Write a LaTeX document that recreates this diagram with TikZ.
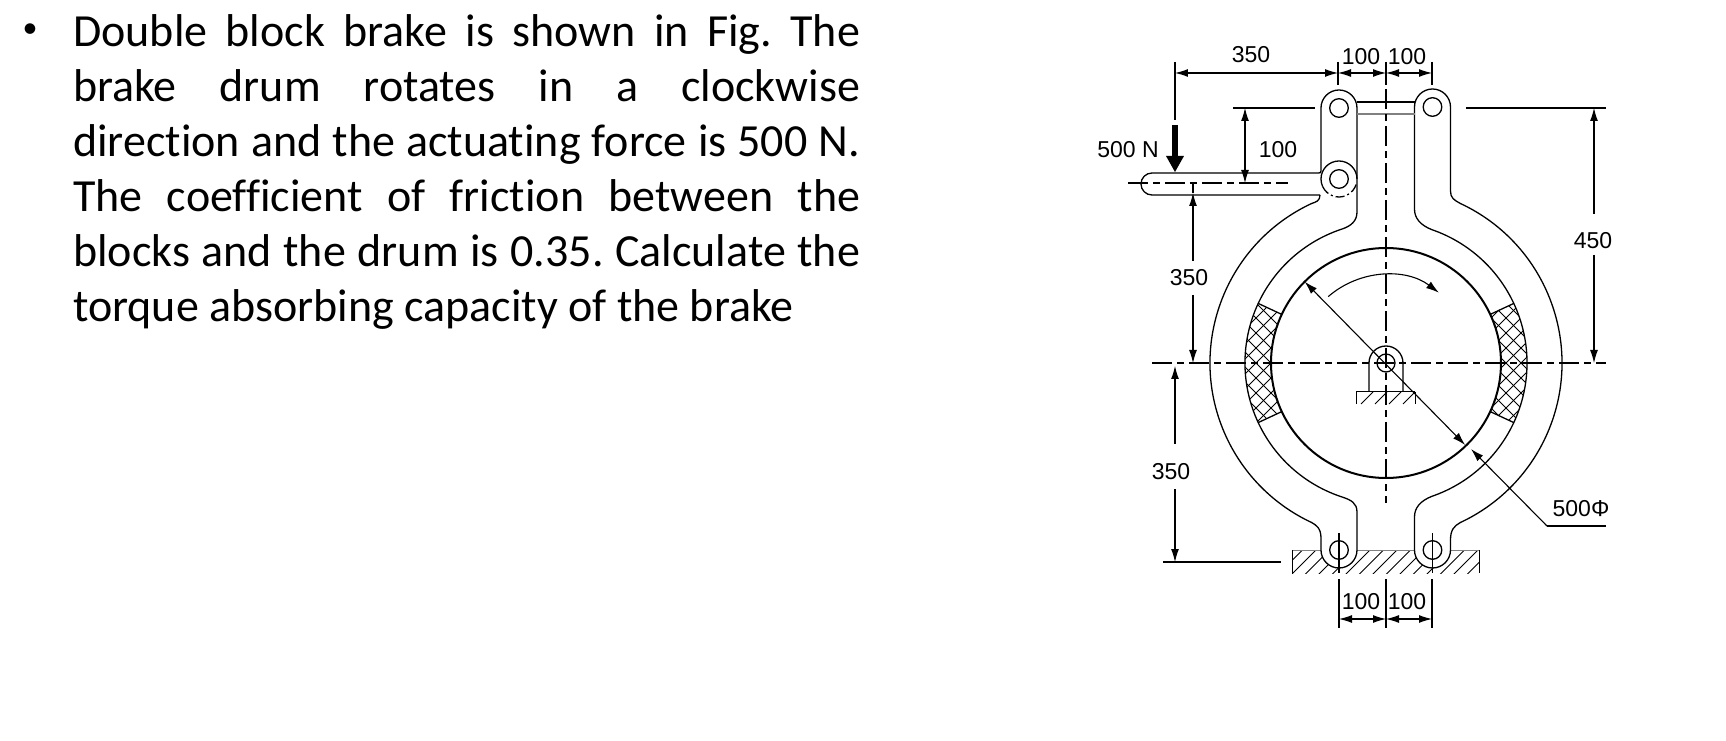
\documentclass[tikz,border=0pt]{standalone}
\usepackage{fontspec}
\setmainfont[Ligatures=NoCommon]{Carlito}
\newfontfamily\dimfont{Liberation Sans}
\usetikzlibrary{arrows.meta}
\frenchspacing
\tikzset{
part/.style={line width=1.3pt},
dimline/.style={line width=1.1pt,{Latex[length=13pt,width=8pt]}-{Latex[length=13pt,width=8pt]}},
dimhead/.style={line width=1.1pt,-{Latex[length=13pt,width=8pt]}},
extline/.style={line width=1.1pt},
axisline/.style={line width=1.2pt,dash pattern=on 20pt off 5pt on 7pt off 5pt},
hatchline/.style={line width=1pt},
dimtext/.style={inner sep=0pt,yshift=-1.5pt,font=\dimfont\fontsize{23}{26}\selectfont},
bodytext/.style={inner sep=0pt,anchor=north west,text width=787pt,align=justify,font=\fontsize{46}{55}\selectfont}
}
\begin{document}
\begin{tikzpicture}[x=1pt,y=1pt]
\pgfmathsetmacro{\rdrum}{115}
\pgfmathsetmacro{\rin}{141}
\pgfmathsetmacro{\rout}{176}
\useasboundingbox (-1386,-378) rectangle (340,363);
\node[inner sep=0pt,font=\fontsize{30}{36}\selectfont] (bullet) at (-1356,332) {•};
\node[bodytext] (problem) at (-1313,349) {Double block brake is shown in Fig. The\linebreak brake drum rotates in a clockwise\linebreak direction and the actuating force is 500 N.\linebreak The coefficient of friction between the\linebreak blocks and the drum is 0.35. Calculate the\linebreak torque absorbing capacity of the brake};
\coordinate (drum) at (0,0);
\coordinate (pinA) at (-47,255);
\coordinate (pinB) at (46.5,256);
\coordinate (pinC) at (-47,184);
\coordinate (pinD) at (-47,-187);
\coordinate (pinE) at (46.5,-187);
\begin{scope}
\clip (-94,-187) rectangle (93,-210);
\foreach \hx in {-122,-108.5,...,90}
\draw[hatchline] (\hx,-212)--++(25,25);
\end{scope}
\draw[hatchline,gray] (-94,-187)--(93,-187);
\draw[hatchline] (-94,-187)--++(0,-23);
\draw[hatchline] (93,-187)--++(0,-23);
\fill[white](pinD) circle (18);
\fill[white](pinE) circle (18);
\begin{scope}
\clip (155:\rdrum) arc (155:205:\rdrum)--(205:\rin) arc (205:155:\rin)--cycle;
\foreach \hx in {-260,-245,...,-40}{
\draw[hatchline,line width=0.8pt] (\hx,-70)--++(140,140);
\draw[hatchline,line width=0.8pt] (\hx,70)--++(140,-140);
}
\end{scope}
\begin{scope}
\clip (25:\rdrum) arc (25:-25:\rdrum)--(-25:\rin) arc (-25:25:\rin)--cycle;
\foreach \hx in {40,55,...,260}{
\draw[hatchline,line width=0.8pt] (\hx,-70)--++(-140,140);
\draw[hatchline,line width=0.8pt] (\hx,70)--++(-140,-140);
}
\end{scope}
\draw[part] (155:\rdrum)--(155:\rin);
\draw[part] (205:\rdrum)--(205:\rin);
\draw[part] (25:\rdrum)--(25:\rin);
\draw[part] (-25:\rdrum)--(-25:\rin);
\draw[line width=2pt] (drum) circle (\rdrum);
\draw[part] (-66,168) .. controls (-66,162) and (-70,161) .. (115:\rout) arc (115:245:\rout) .. controls (-70,-162) and (-65,-165) .. (-65,-175) -- (-65,-187) arc (180:360:18) -- (-29,-149) .. controls (-29,-140) and (-35,-137) .. (252:\rin) arc (252:108:\rin) .. controls (-35,137) and (-29,142) .. (-29,151) -- (-29,255) arc (0:180:18) -- (-65,192) .. controls (-65,190) and (-66,190) .. (-68,190) -- (-234,190) arc (90:270:11) -- (-66,168);
\draw[part] (28.5,256) arc (180:0:18) -- (64.5,172) .. controls (64.5,165) and (68,163) .. (65:\rout) arc (65:-65:\rout) .. controls (68,-163) and (64.5,-167) .. (64.5,-177) -- (64.5,-187) arc (0:-180:18) -- (28.5,-154) .. controls (28.5,-145) and (34,-138) .. (-71:\rin) arc (-71:71:\rin) .. controls (34,138) and (28.5,145) .. (28.5,154) -- (28.5,256);
\draw[part] (-29,261)--(28.5,261);
\draw[part,gray] (-29,249)--(28.5,249);
\draw[part] ([shift={(180:18)}]pinC) arc (180:0:18);
\draw[part] ([shift={(180:18)}]pinC) arc (180:205:18);
\draw[part,dash pattern=on 9pt off 3pt on 2pt off 3pt] ([shift={(205:18)}]pinC) arc (205:345:18);
\foreach \pin in {pinA,pinB,pinC,pinD,pinE}
\draw[part] (\pin) circle (9.3);
\draw[part] (-47,-170)--(-47,-210);
\draw[part] (46.5,-170)--(46.5,-210);
\draw[part] (-17,-29)--(-17,0) arc (180:0:17)--(17,-29);
\draw[part] (drum) circle (9);
\draw[hatchline] (-30,-29)--(29,-29);
\draw[hatchline] (-30,-29)--++(0,-12);
\draw[hatchline] (29,-29)--++(0,-12);
\foreach \hx in {-25,-11,3,17}
\draw[hatchline] (\hx,-41)--++(12,12);
\draw[axisline] (-234,0)--(220,0);
\draw[axisline] (0,274)--(0,-140);
\draw[axisline] (-258,180)--(-98,180);
\draw[dimhead,line width=1.1pt] (131:88) arc (131:53:88);
\draw[dimline] (135:\rdrum)--(-46:114);
\coordinate (leader) at (161,-163);
\draw[dimhead] (leader)--(85,-86);
\draw[extline] (leader)--(220,-163);
\node[dimtext] (dtext) at (195,-144) {500Φ};
\draw[extline] (-211,301)--(-211,243);
\draw[extline] (-48,301)--(-48,278);
\draw[extline] (0,301)--(0,278);
\draw[extline] (46,301)--(46,278);
\draw[dimline] (-211,290)--(-48,290);
\draw[dimline] (-48,290)--(0,290);
\draw[dimline] (0,290)--(46,290);
\node[dimtext] (ltext) at (-135,310) {350};
\node[dimtext] (atext) at (-25,308) {100};
\node[dimtext] (btext) at (21,308) {100};
\draw[line width=6pt] (-211,238)--(-211,205);
\fill (-220,207)--(-202,207)--(-211,191)--cycle;
\node[dimtext] (ftext) at (-258,215) {500 N};
\draw[extline] (-153,255)--(-71,255);
\draw[dimline] (-141,255)--(-141,180);
\node[dimtext] (ctext) at (-108,215) {100};
\draw[dimhead] (-193,102)--(-193,170);
\draw[extline] (-193,170)--(-193,180);
\node[dimtext] (htext) at (-197,87) {350};
\draw[dimhead] (-193,68)--(-193,0);
\draw[dimhead] (-211,-81)--(-211,-3);
\node[dimtext] (vtext) at (-215,-107) {350};
\draw[dimhead] (-211,-126)--(-211,-199);
\draw[extline] (-223,-199)--(-105,-199);
\draw[extline] (80,255)--(220,255);
\draw[dimhead] (208,149)--(208,255);
\node[dimtext] (rtext) at (207,124) {450};
\draw[dimhead] (208,108)--(208,0);
\draw[extline] (-47,-216)--(-47,-265);
\draw[extline] (0,-216)--(0,-265);
\draw[extline] (46,-216)--(46,-265);
\draw[dimline] (-47,-256)--(0,-256);
\draw[dimline] (0,-256)--(46,-256);
\node[dimtext] (etext) at (-25,-237) {100};
\node[dimtext] (gtext) at (21,-237) {100};
\end{tikzpicture}
\end{document}
